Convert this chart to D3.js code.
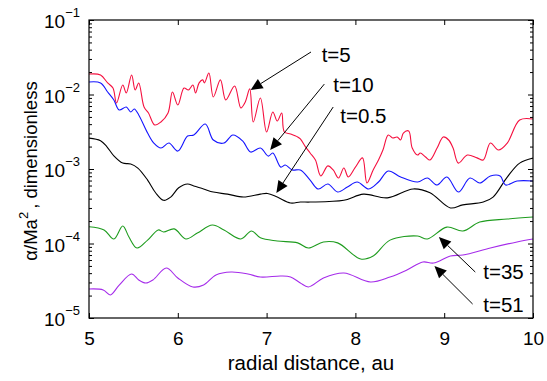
<!DOCTYPE html>
<html>
<head>
<meta charset="utf-8">
<script src="https://cdn.jsdelivr.net/npm/d3@7"></script>
<style>
  html, body { margin: 0; padding: 0; background: #fff; }
  svg { display: block; font-family: "Liberation Sans", Arial, sans-serif; }
</style>
</head>
<body>
<svg id="chart"></svg>
<script>
const width = 547;
const height = 381;
const margins = { top: 20, right: 14, bottom: 63, left: 89 };

// ticks
const xTicks = [5, 6, 7, 8, 9, 10];
const yExponents = [-5, -4, -3, -2, -1];

// series, [radial distance (au), alpha/Ma^2]
const t05 = [[5.00,2.6e-3],[5.13,2.4e-3],[5.20,2.0e-3],[5.28,1.5e-3],[5.38,1.2e-3],[5.47,1.17e-3],[5.55,1.03e-3],
  [5.66,7.1e-4],[5.75,4.8e-4],[5.84,3.8e-4],[5.92,4.2e-4],[6.01,5.6e-4],[6.11,6.3e-4],[6.18,5.9e-4],[6.29,5.4e-4],
  [6.40,4.9e-4],[6.56,4.6e-4],[6.74,4.2e-4],[6.93,4.6e-4],[7.01,4.7e-4],[7.12,4.2e-4],[7.27,3.5e-4],[7.38,3.6e-4],
  [7.49,3.6e-4],[7.87,3.8e-4],[8.09,4.6e-4],[8.36,4.1e-4],[8.65,5.4e-4],[8.84,4.8e-4],[9.07,3.0e-4],[9.21,3.3e-4],
  [9.44,3.6e-4],[9.55,4.2e-4],[9.71,7.8e-4],[9.85,1.2e-3],[10.0,1.4e-3]];

const t5 = [[5.00,1.88e-2],[5.13,1.83e-2],[5.21,1.43e-2],[5.27,1.22e-2],[5.31,7.7e-3],[5.38,1.34e-2],[5.42,1.05e-2],
  [5.48,1.83e-2],[5.52,1.15e-2],[5.56,1.43e-2],[5.62,6.8e-3],[5.67,5.65e-3],[5.74,3.9e-3],[5.81,4.28e-3],[5.89,5.65e-3],
  [5.94,1.08e-2],[6.00,7.24e-3],[6.07,1.22e-2],[6.12,1.15e-2],[6.17,1.34e-2],[6.20,1.05e-2],[6.24,1.43e-2],[6.28,1.57e-2],
  [6.30,1.43e-2],[6.35,1.94e-2],[6.40,9.27e-3],[6.48,1.57e-2],[6.54,8.45e-3],[6.64,1.30e-2],[6.71,6.6e-3],[6.76,7.94e-3],
  [6.81,1.19e-2],[6.85,4.28e-3],[6.93,8.99e-3],[7.00,3.14e-3],[7.07,5.83e-3],[7.12,4.41e-3],[7.17,5.65e-3],[7.20,3.14e-3],
  [7.27,2.95e-3],[7.35,2.69e-3],[7.38,2.53e-3],[7.44,1.97e-3],[7.49,1.64e-3],[7.55,1.32e-3],[7.61,8.07e-4],[7.69,1.10e-3],
  [7.75,9.7e-4],[7.81,7.58e-4],[7.87,1.03e-3],[7.92,7.82e-4],[8.00,1.06e-3],[8.08,1.41e-3],[8.13,6.5e-4],[8.20,9.7e-4],
  [8.26,1.32e-3],[8.31,1.8e-3],[8.37,2.86e-3],[8.42,2.61e-3],[8.47,2.69e-3],[8.51,2.45e-3],[8.54,3.04e-3],[8.60,3.24e-3],
  [8.64,1.91e-3],[8.70,1.54e-3],[8.73,1.64e-3],[8.79,1.45e-3],[8.84,1.32e-3],[8.92,1.91e-3],[8.99,2.69e-3],[9.05,2.45e-3],
  [9.10,1.91e-3],[9.16,1.2e-3],[9.26,1.54e-3],[9.37,1.41e-3],[9.44,1.32e-3],[9.52,2.23e-3],[9.61,1.8e-3],[9.71,2.23e-3],
  [9.85,4.55e-3],[10.0,4.69e-3]];

const t10 = [[5.00,1.47e-2],[5.13,1.43e-2],[5.21,1.08e-2],[5.28,8.44e-3],[5.34,6.19e-3],[5.42,6.79e-3],[5.47,5.82e-3],
  [5.51,6.38e-3],[5.56,5.31e-3],[5.66,3.04e-3],[5.73,2.23e-3],[5.81,1.91e-3],[5.90,2.23e-3],[6.00,1.74e-3],[6.11,2.77e-3],
  [6.18,2.86e-3],[6.31,4.02e-3],[6.40,2.45e-3],[6.52,2.23e-3],[6.62,2.86e-3],[6.73,2.38e-3],[6.82,1.69e-3],[6.93,1.91e-3],
  [7.02,1.49e-3],[7.07,1.64e-3],[7.16,1.06e-3],[7.21,1.13e-3],[7.29,9.7e-4],[7.38,9.7e-4],[7.49,7.1e-4],[7.58,5.39e-4],
  [7.69,6.29e-4],[7.80,4.91e-4],[7.91,5.73e-4],[8.02,6.69e-4],[8.15,5.39e-4],[8.26,6.69e-4],[8.37,9.4e-4],[8.51,7.8e-4],
  [8.70,6.69e-4],[8.81,7.57e-4],[8.92,6.1e-4],[9.03,7.8e-4],[9.16,4.91e-4],[9.29,7.57e-4],[9.40,6.49e-4],[9.52,8.05e-4],
  [9.63,8.05e-4],[9.69,6.1e-4],[9.82,6.9e-4],[10.0,6.9e-4]];

const t35 = [[5.00,1.68e-4],[5.17,1.52e-4],[5.28,1.15e-4],[5.38,1.72e-4],[5.45,1.22e-4],[5.54,8.7e-5],[5.66,1.11e-4],
  [5.78,1.52e-4],[5.84,1.43e-4],[5.96,1.57e-4],[6.09,1.15e-4],[6.22,1.38e-4],[6.39,1.77e-4],[6.52,1.52e-4],[6.71,1.15e-4],
  [6.83,1.47e-4],[6.93,1.19e-4],[7.12,1.08e-4],[7.35,1.02e-4],[7.47,8.7e-5],[7.64,1.05e-4],[7.80,1.02e-4],[8.06,6.19e-5],
  [8.20,6.8e-5],[8.39,1.11e-4],[8.70,1.26e-4],[8.81,1.15e-4],[9.03,1.66e-4],[9.21,1.47e-4],[9.40,1.94e-4],[9.71,2.13e-4],
  [10.0,2.27e-4]];

const t51 = [[5.00,2.45e-5],[5.16,2.38e-5],[5.24,2.04e-5],[5.34,2.77e-5],[5.48,3.9e-5],[5.56,3.24e-5],[5.64,2.95e-5],
  [5.72,3.24e-5],[5.87,4.69e-5],[6.00,3.44e-5],[6.17,2.61e-5],[6.29,2.77e-5],[6.43,3.78e-5],[6.60,4.14e-5],[6.79,3.9e-5],
  [6.93,3.55e-5],[7.16,3.66e-5],[7.27,3.55e-5],[7.38,2.95e-5],[7.47,2.61e-5],[7.64,3.44e-5],[7.87,4.02e-5],[8.17,3.04e-5],
  [8.39,3.55e-5],[8.58,4.41e-5],[8.76,5.65e-5],[8.88,5.47e-5],[9.07,6.8e-5],[9.21,7.0e-5],[9.52,8.7e-5],[9.82,1.05e-4],
  [10.0,1.15e-4]];

const seriesNames = ["t=0.5", "t=5", "t=10", "t=35", "t=51"];
const seriesValues = [t05, t5, t10, t35, t51];
const seriesColors = ["#000000", "#f5103f", "#1414ff", "#1e9c1e", "#a52bea"];

// annotation arrows: tip, tail and label anchor in data units
const annotations = [
  { label: "t=5",   tip: [6.82, 1.15e-2], tail: [7.50, 3.72e-2], text: [7.62, 2.73e-2] },
  { label: "t=10",  tip: [7.04, 1.80e-3], tail: [7.65, 1.38e-2], text: [7.75, 1.08e-2] },
  { label: "t=0.5", tip: [7.11, 4.76e-4], tail: [7.75, 6.79e-3], text: [7.83, 4.14e-3] },
  { label: "t=35",  tip: [8.94, 1.22e-4], tail: [9.35, 4.14e-5], text: [9.44, 3.33e-5] },
  { label: "t=51",  tip: [8.89, 4.99e-5], tail: [9.32, 1.54e-5], text: [9.44, 1.21e-5] }
];

const svg = d3.select("#chart")
  .attr("width", width)
  .attr("height", height);

svg.append("rect").attr("width", width).attr("height", height).attr("fill", "#fff");

const x = d3.scaleLinear().domain([5, 10]).range([margins.left, width - margins.right]);
const y = d3.scaleLog().domain([1e-5, 1e-1]).range([height - margins.bottom, margins.top]);

const majorY = yExponents.map(e => Math.pow(10, e));
const minorY = [];
yExponents.slice(0, -1).forEach(e => {
  for (let k = 2; k <= 9; k++) minorY.push(k * Math.pow(10, e));
});

// curves
svg.append("clipPath").attr("id", "clip")
  .append("rect")
  .attr("x", margins.left).attr("y", margins.top)
  .attr("width", width - margins.left - margins.right)
  .attr("height", height - margins.top - margins.bottom);

const line = d3.line()
  .x(d => x(d[0]))
  .y(d => y(d[1]))
  .curve(d3.curveCatmullRom.alpha(0.5));

svg.append("g")
  .attr("clip-path", "url(#clip)")
  .selectAll("path")
  .data(seriesValues)
  .join("path")
  .attr("fill", "none")
  .attr("stroke", (d, i) => seriesColors[i])
  .attr("stroke-width", 1.1)
  .attr("stroke-linejoin", "round")
  .attr("d", line);

// axes, ticks point inward
const x0 = margins.left, x1 = width - margins.right;
const y0 = height - margins.bottom, y1 = margins.top;

const styleAxis = g => {
  g.select(".domain").remove();
  g.selectAll("line").attr("stroke", "#000").attr("stroke-width", 1);
};

svg.append("g").attr("transform", `translate(0,${y0})`)
  .call(d3.axisBottom(x).tickValues(xTicks).tickSizeInner(-5).tickSizeOuter(0)
    .tickPadding(13.5).tickFormat(d3.format("d")))
  .call(styleAxis)
  .call(g => g.selectAll("text").attr("font-size", 19).attr("fill", "#000")
    .attr("font-family", "Liberation Sans, Arial, sans-serif"));

svg.append("g").attr("transform", `translate(0,${y1})`)
  .call(d3.axisTop(x).tickValues(xTicks).tickSizeInner(-5).tickSizeOuter(0).tickFormat(""))
  .call(styleAxis);

[[d3.axisLeft, x0], [d3.axisRight, x1]].forEach(([axis, pos]) => {
  svg.append("g").attr("transform", `translate(${pos},0)`)
    .call(axis(y).tickValues(majorY).tickSizeInner(-5).tickSizeOuter(0).tickFormat(""))
    .call(styleAxis);
  svg.append("g").attr("transform", `translate(${pos},0)`)
    .call(axis(y).tickValues(minorY).tickSizeInner(-3).tickSizeOuter(0).tickFormat(""))
    .call(styleAxis);
});

// y tick labels 10^n
const yLabels = svg.append("g")
  .selectAll("text")
  .data(yExponents)
  .join("text")
  .attr("x", x0 - 9)
  .attr("y", d => y(Math.pow(10, d)) + 8)
  .attr("text-anchor", "end")
  .attr("font-size", 19)
  .attr("fill", "#000");
yLabels.append("tspan").text("10");
yLabels.append("tspan").attr("dy", -11).attr("font-size", 13).text(d => "\u2212" + Math.abs(d));

svg.append("rect")
  .attr("x", x0).attr("y", y1)
  .attr("width", x1 - x0).attr("height", y0 - y1)
  .attr("fill", "none")
  .attr("stroke", "#000")
  .attr("stroke-width", 1.2);

// axis titles
svg.append("text")
  .attr("x", (x0 + x1) / 2)
  .attr("y", 370)
  .attr("text-anchor", "middle")
  .attr("font-size", 20.5)
  .attr("fill", "#000")
  .text("radial distance, au");

const yTitle = svg.append("text")
  .attr("transform", `translate(37,${(y0 + y1) / 2 + 2}) rotate(-90)`)
  .attr("text-anchor", "middle")
  .attr("font-size", 18.5)
  .attr("fill", "#000");
yTitle.append("tspan").text("\u03b1/Ma");
yTitle.append("tspan").attr("dy", -9).attr("font-size", 13).text("2");
yTitle.append("tspan").attr("dy", 9).attr("dx", 3).text(", dimensionless");

// arrows
const headLength = 12;
const headHalf = 5.5;
const arrows = svg.append("g");
annotations.forEach(a => {
  const tx = x(a.tip[0]), ty = y(a.tip[1]);
  const sx = x(a.tail[0]), sy = y(a.tail[1]);
  const len = Math.hypot(tx - sx, ty - sy);
  const ux = (tx - sx) / len, uy = (ty - sy) / len;
  const bx = tx - ux * headLength, by = ty - uy * headLength;
  arrows.append("line")
    .attr("x1", sx).attr("y1", sy).attr("x2", bx).attr("y2", by)
    .attr("stroke", "#000").attr("stroke-width", 1);
  arrows.append("path")
    .attr("d", `M${tx},${ty}L${bx - uy * headHalf},${by + ux * headHalf}L${bx + uy * headHalf},${by - ux * headHalf}Z`)
    .attr("fill", "#000");
  arrows.append("text")
    .attr("x", x(a.text[0]))
    .attr("y", y(a.text[1]))
    .attr("font-size", 20.5)
    .attr("fill", "#000")
    .text(a.label);
});
</script>
</body>
</html>
